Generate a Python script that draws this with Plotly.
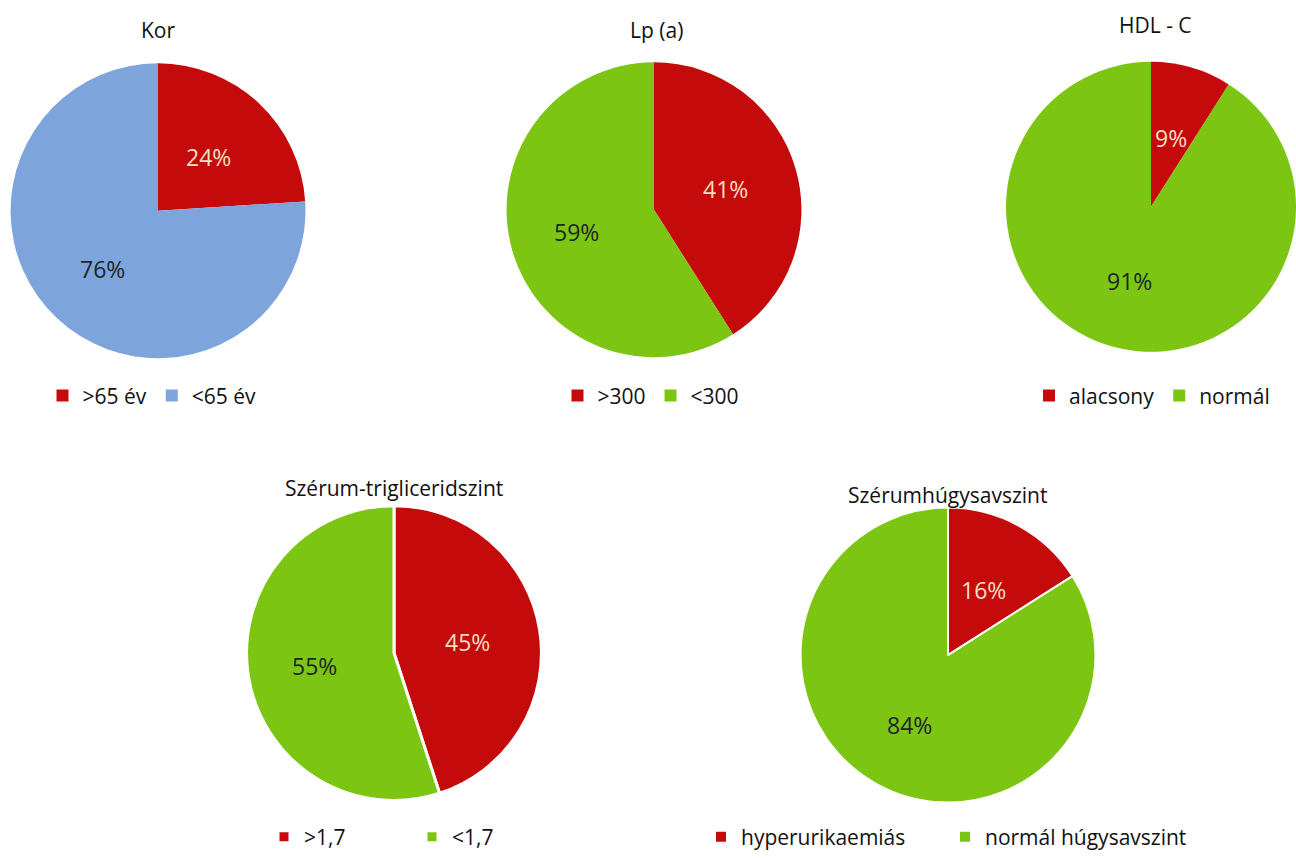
import math
import plotly.graph_objects as go

# Chart content
titles = ["Kor", "Lp (a)", "HDL - C", "Szérum-trigliceridszint", "Szérumhúgysavszint"]
labels_kor = [">65 év", "<65 év"]
values_kor = [24, 76]
labels_lpa = [">300", "<300"]
values_lpa = [41, 59]
labels_hdl = ["alacsony", "normál"]
values_hdl = [9, 91]
labels_tg = [">1,7", "<1,7"]
values_tg = [45, 55]
labels_hu = ["hyperurikaemiás", "normál húgysavszint"]
values_hu = [16, 84]

RED = "#c40a0a"
BLUE = "#7ea4dc"
GREEN = "#7cc512"
LIGHT_TXT = "#f8dfc4"
DARK_TXT = "#1c2626"
FONT = "'Open Sans', 'Noto Sans', sans-serif"

W, H = 1296, 858


def dom(cx, cy, r):
    """Pie domain in paper coordinates from a centre and radius in pixels."""
    x0, x1 = max(cx - r, 0) / W, min(cx + r, W) / W
    y0, y1 = 1 - (cy + r) / H, 1 - (cy - r) / H
    return dict(x=[x0, x1], y=[y0, y1])


def geometry(domain):
    """Centre and radius (pixels) that plotly gives a pie in this domain."""
    w = W * (domain["x"][1] - domain["x"][0])
    h = H * (domain["y"][1] - domain["y"][0])
    cx = W * (domain["x"][0] + domain["x"][1]) / 2
    cy = H * (1 - (domain["y"][0] + domain["y"][1]) / 2)
    return cx, cy, min(w, h) / 2


pies = [
    (labels_kor, values_kor, [RED, BLUE], dom(158, 213, 149), "legend", 0),
    (labels_lpa, values_lpa, [RED, GREEN], dom(654, 212, 149), "legend2", 0),
    (labels_hdl, values_hdl, [RED, GREEN], dom(1155, 209, 149), "legend3", 0),
    (labels_tg, values_tg, [RED, GREEN], dom(394, 660, 149), "legend4", 3),
    (labels_hu, values_hu, [RED, GREEN], dom(948, 662, 149), "legend5", 2),
]

fig = go.Figure()
for labels, values, colors, domain, leg, lw in pies:
    fig.add_trace(go.Pie(
        labels=labels,
        values=values,
        sort=False,
        direction="clockwise",
        rotation=0,
        domain=domain,
        marker=dict(colors=colors, line=dict(color="white", width=lw)),
        textinfo="none",
        legend=leg,
        showlegend=True,
        hoverinfo="label+percent",
    ))

    # Percentage labels along each slice's bisector
    cx, cy, r = geometry(domain)
    total = sum(values)
    start = 0.0
    for v, c in zip(values, [LIGHT_TXT, DARK_TXT]):
        share = v / total
        mid = 2 * math.pi * (start + share / 2)
        dist = r * (0.5 if share < 0.5 else 0.54)
        px = cx + dist * math.sin(mid)
        py = cy - dist * math.cos(mid)
        fig.add_annotation(text=f"{round(share * 100)}%", x=px / W, y=1 - py / H,
                           xref="paper", yref="paper", showarrow=False,
                           xanchor="center", yanchor="middle",
                           font=dict(family=FONT, size=23, color=c))
        start += share

# Titles above each pie
title_pos = [(158, 30), (656, 30), (1155, 25), (394, 493), (947, 500)]
for t, (x, y) in zip(titles, title_pos):
    fig.add_annotation(text=t, x=x / W, y=1 - y / H, xref="paper", yref="paper",
                       showarrow=False, xanchor="center", yanchor="middle",
                       font=dict(family=FONT, size=21, color="#111111"))

leg_font = dict(family=FONT, size=21, color="#111111")


def legend_cfg(cx, cy, ew=None):
    cfg = dict(orientation="h", x=cx / W, y=1 - cy / H, xanchor="center",
               yanchor="middle", font=leg_font, bgcolor="rgba(0,0,0,0)",
               itemclick=False, itemdoubleclick=False, tracegroupgap=0)
    if ew is not None:
        cfg["entrywidth"] = ew
        cfg["entrywidthmode"] = "pixels"
    return cfg


fig.update_layout(
    width=W, height=H,
    margin=dict(l=0, r=0, t=0, b=0),
    paper_bgcolor="white",
    plot_bgcolor="white",
    legend=legend_cfg(152, 400),
    legend2=legend_cfg(651, 400),
    legend3=legend_cfg(1152, 400),
    legend4=legend_cfg(412, 846, 103),
    legend5=legend_cfg(945, 846, 199),
)

fig.write_html("out.html")
